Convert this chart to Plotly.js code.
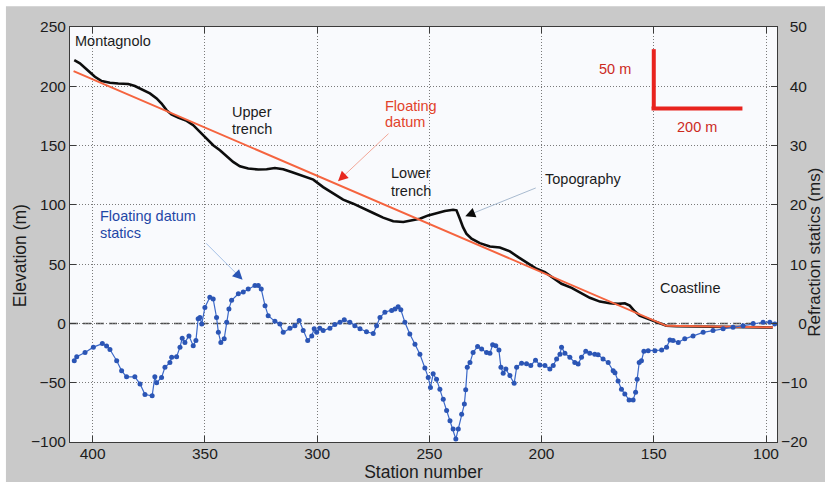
<!DOCTYPE html>
<html>
<head>
<meta charset="utf-8">
<script src="https://cdn.plot.ly/plotly-3.0.1.min.js"></script>
<style>
  html, body { margin: 0; padding: 0; background: #ffffff; }
  #chart { width: 825px; height: 482px; }
</style>
</head>
<body>
<div id="chart"></div>
<script>
// Topography profile (station number, elevation in m)
const topoStation = [408.2, 405.7, 402, 399, 396, 392.3, 388.6, 384.1, 381.2, 378.2, 374.5, 371.5, 369.3, 367.1, 364.9, 361.9, 358.1, 355.2, 352.2, 349.2, 346.3, 343.3, 340.3, 337.4, 334.4, 330.7, 326.2, 322.5, 318.8, 315.1, 311.4, 308.4, 305.8, 301.7, 297.3, 292.8, 288.4, 283.9, 279.5, 275, 270.6, 266.1, 261.6, 257.9, 254.2, 250.5, 246.8, 243.1, 239.4, 237.9, 236.4, 235, 233.5, 231.2, 227.5, 223, 218.6, 214.1, 210.4, 206.5, 202.2, 198.5, 194.8, 191.1, 186.6, 182.9, 178.5, 174, 169.6, 165.9, 162.9, 160.7, 158.5, 156.3, 152.6, 148.8, 144.4, 139.9, 134, 115, 97];
const topoElev = [222, 219.4, 213.1, 208, 204.4, 203, 202.4, 201.9, 200.2, 197.4, 194, 189.8, 185.5, 179.9, 176.2, 173.7, 170.8, 167.2, 161.5, 155.1, 150.3, 146.1, 141, 136.2, 132.5, 130.6, 129.8, 130, 131.1, 130, 127.7, 125.8, 124.2, 121.3, 115, 109.5, 104.4, 101, 96.8, 93.1, 89.2, 86.1, 85.5, 86.9, 88.3, 91.1, 93.1, 94.8, 95.9, 95.4, 88.3, 81.2, 75.7, 71.4, 67.7, 64.9, 64, 60.8, 55.9, 51.2, 46.1, 43.2, 38.5, 33.4, 30, 26.3, 21.6, 18.4, 17, 16.5, 17, 15, 10.2, 6.6, 3.8, 0.9, -1.9, -2.4, -2.5, -3.0, -3.4];

// Floating datum (station number, elevation in m)
const datumStation = [408.5, 144.4, 96.9];
const datumElev = [212.8, -2.0, -3.3];

// Floating datum statics (station number, refraction statics in ms)
const staticsStation = [408.2, 407.1, 403.4, 399.7, 395.7, 393.8, 392.3, 389.3, 387.1, 384.9, 381.2, 378.9, 376.7, 373.5, 372.3, 371.5, 369.3, 367.8, 365.6, 364.8, 362.6, 361.1, 360.1, 358.9, 357.1, 355.2, 354.0, 353.0, 352.2, 351.4, 350.0, 347.8, 346.3, 344.8, 344.0, 342.9, 341.4, 340.3, 339.3, 338.1, 335.1, 332.9, 330.7, 327.7, 326.2, 324.9, 323.2, 321.8, 318.8, 316.6, 315.1, 312.1, 309.9, 308.0, 306.2, 304.2, 302.4, 301.3, 300.2, 298.8, 297.3, 294.3, 292.1, 289.8, 287.9, 285.4, 283.2, 280.9, 278.0, 275.0, 273.5, 272.0, 269.8, 266.8, 265.3, 263.9, 262.7, 260.9, 258.7, 256.4, 254.2, 252.0, 250.5, 249.5, 248.3, 246.8, 245.3, 243.8, 242.3, 240.8, 239.4, 238.2, 237.1, 235.6, 234.4, 233.8, 233.1, 231.9, 230.5, 228.5, 226.7, 224.5, 223.0, 221.8, 220.4, 219.0, 218.1, 217.1, 215.9, 214.1, 212.2, 211.1, 208.9, 206.7, 204.8, 202.7, 200.8, 198.5, 196.3, 194.8, 193.3, 191.8, 191.1, 189.6, 187.4, 185.2, 183.7, 182.2, 180.3, 178.5, 176.3, 174.8, 172.6, 170.3, 168.1, 167.3, 165.9, 164.4, 162.9, 161.0, 159.2, 158.1, 157.4, 156.5, 155.5, 154.4, 152.5, 149.5, 146.5, 144.3, 142.8, 141.4, 139.1, 136.2, 132.5, 128.0, 123.6, 119.1, 114.7, 110.2, 105.7, 101.3, 98.3, 96.1];
const staticsMs = [-6.3, -5.6, -4.9, -4.0, -3.4, -3.8, -4.4, -6.3, -8.0, -9.0, -9.0, -10.2, -12.0, -12.2, -9.0, -10.0, -9.1, -7.4, -6.6, -5.7, -5.6, -4.0, -2.5, -3.2, -2.1, -3.75, -2.9, 0.8, 1.0, -0.1, 2.7, 4.4, 4.1, 1.0, -1.5, -3.2, -2.6, 0.2, 2.45, 3.9, 5.0, 5.3, 5.8, 6.4, 6.4, 5.8, 3.0, 1.3, 0.35, -0.1, -1.5, -0.8, -0.4, 0.5, -1.2, -2.9, -2.1, -0.9, -1.5, -0.8, -1.2, -0.8, -0.2, 0.2, 0.6, 0.2, -0.4, -0.9, -1.4, -1.7, -0.4, 1.0, 1.9, 2.2, 2.45, 2.8, 2.3, 0.2, -1.8, -3.5, -5.2, -7.5, -9.1, -10.8, -8.5, -9.4, -11.1, -12.8, -14.7, -16.4, -17.8, -19.5, -17.8, -15.3, -13.6, -11.2, -7.4, -6.6, -4.9, -3.9, -4.3, -4.9, -5.05, -3.6, -3.75, -4.5, -7.4, -8.4, -7.7, -8.8, -10.1, -7.4, -6.7, -6.8, -7.1, -6.2, -7.0, -7.1, -7.7, -7.1, -6.0, -5.2, -4.0, -5.05, -5.7, -6.6, -6.85, -5.7, -4.7, -5.05, -5.2, -5.3, -6.0, -6.6, -8.0, -8.3, -9.7, -11.1, -11.9, -12.9, -12.9, -11.6, -9.4, -6.6, -6.3, -4.7, -4.6, -4.6, -4.5, -4.0, -2.8, -2.9, -3.2, -2.6, -2.1, -1.5, -1.2, -0.9, -0.65, -0.4, 0.0, 0.2, 0.2, -0.1];

// Axis ticks
const stationTicks = [400, 350, 300, 250, 200, 150, 100];
const elevTicks = [-100, -50, 0, 50, 100, 150, 200, 250];
const msTicks = [-20, -10, 0, 10, 20, 30, 40, 50];
// right-hand labels padded with figure spaces so they line up on the right
const msTickText = ['\u221220', '\u221210', '\u2007\u20070', '\u200710', '\u200720', '\u200730', '\u200740', '\u200750'];

const FONT = 'Liberation Sans, Arial, Helvetica, sans-serif';
const TXT = '#1c1c1c';
const AXIS = '#3a3a3a';
const GRID = '#7a7a7a';

const traces = [
  {
    x: topoStation, y: topoElev, type: 'scatter', mode: 'lines',
    line: { color: '#0d0d0d', width: 2.6 }, hoverinfo: 'skip', showlegend: false
  },
  {
    x: datumStation, y: datumElev, type: 'scatter', mode: 'lines',
    line: { color: '#f5643f', width: 2 }, hoverinfo: 'skip', showlegend: false
  },
  {
    x: staticsStation, y: staticsMs, type: 'scatter', mode: 'lines+markers',
    yaxis: 'y2',
    line: { color: '#3b68c8', width: 1.2 },
    marker: { color: '#2b55b5', size: 5, symbol: 'circle', line: { width: 0 } },
    hoverinfo: 'skip', showlegend: false
  }
];

function note(text, x, y, color, extra) {
  return Object.assign({
    text: text, x: x, y: y, xref: 'x', yref: 'y',
    xanchor: 'left', yanchor: 'middle', showarrow: false,
    font: { family: FONT, size: 14.5, color: color }
  }, extra || {});
}

// arrow: thin pale shaft plus a solid head at the tip
function arrow(x, y, ax, ay, shaftColor, headColor) {
  const len = Math.sqrt(ax * ax + ay * ay);
  return [
    { x: x, y: y, xref: 'x', yref: 'y', text: '', showarrow: true,
      ax: ax, ay: ay, arrowhead: 0, arrowwidth: 1, arrowcolor: shaftColor, standoff: 6 },
    { x: x, y: y, xref: 'x', yref: 'y', text: '', showarrow: true,
      ax: ax / len * 11, ay: ay / len * 11, arrowhead: 2, arrowsize: 2,
      arrowwidth: 1, arrowcolor: headColor }
  ];
}

const annotations = [
  note('Montagnolo', 408.8, 238.2, TXT),
  note('Upper', 338.8, 178.2, TXT),
  note('trench', 338.8, 164.4, TXT),
  note('Floating', 270.6, 183.3, '#e2432b'),
  note('datum', 270.6, 169.5, '#e2432b'),
  note('Lower', 267.9, 126.6, TXT),
  note('trench', 267.9, 111.6, TXT),
  note('Topography', 199.3, 121.6, TXT),
  note('Coastline', 148.1, 29.7, TXT),
  note('Floating datum', 397.8, 90.5, '#1f47a6'),
  note('statics', 397.8, 76.2, '#1f47a6'),
  note('50 m', 175.2, 214.5, '#cc2a1e'),
  note('200 m', 140.4, 165.8, '#cc2a1e'),
  // axis titles
  { text: 'Elevation (m)', xref: 'paper', yref: 'paper', x: -0.0708, y: 0.45,
    textangle: -90, showarrow: false, xanchor: 'center', yanchor: 'middle',
    font: { family: FONT, size: 17.5, color: TXT } },
  { text: 'Refraction statics (ms)', xref: 'paper', yref: 'paper', x: 1.0535, y: 0.458,
    textangle: -90, showarrow: false, xanchor: 'center', yanchor: 'middle',
    font: { family: FONT, size: 17, color: TXT } }
].concat(
  arrow(290.7, 119.9, 52, -49, '#f3a899', '#e8281e'),
  arrow(234.0, 90.3, 72, -29, '#a9bbd0', '#0a0a0a'),
  arrow(333.2, 36.8, -38, -38, '#a5c0e6', '#2a55b5')
);

const shapes = [
  // pale strips along the top and left edge of the figure
  { type: 'rect', xref: 'paper', yref: 'paper', x0: -0.1, x1: 1.07, y0: 1.0499, y1: 1.07,
    fillcolor: '#ffffff', line: { width: 0 }, layer: 'below' },
  { type: 'rect', xref: 'paper', yref: 'paper', x0: -0.1, x1: -0.0906, y0: -0.1, y1: 1.07,
    fillcolor: '#ffffff', line: { width: 0 }, layer: 'below' },
  // zero reference
  { type: 'line', xref: 'paper', yref: 'y', x0: 0, x1: 1, y0: 0, y1: 0,
    line: { color: '#4d4d4d', width: 1.4, dash: '8px,5px' }, layer: 'below' },
  // scale bar: 50 m vertical, 200 m horizontal
  { type: 'line', xref: 'x', yref: 'y', x0: 150, x1: 150, y0: 181.3, y1: 231.3,
    line: { color: '#e8231e', width: 4 } },
  { type: 'line', xref: 'x', yref: 'y', x0: 151, x1: 110.5, y0: 181.3, y1: 181.3,
    line: { color: '#e8231e', width: 4 } }
];

const layout = {
  width: 825, height: 482,
  margin: { l: 70, r: 48.3, t: 26.7, b: 40.3 },
  paper_bgcolor: '#c9c9c9',
  plot_bgcolor: '#f9fafd',
  font: { family: FONT, size: 15.5, color: TXT },
  showlegend: false,
  xaxis: {
    range: [410.1, 95.1], autorange: false,
    tickvals: stationTicks, ticks: 'inside', ticklen: 6, tickcolor: AXIS,
    showline: true, linecolor: AXIS, linewidth: 1, mirror: 'ticks',
    showgrid: true, gridcolor: GRID, griddash: '1px,2px', gridwidth: 1,
    zeroline: false, ticklabelstandoff: -3,
    tickfont: { family: FONT, size: 15.5, color: TXT },
    title: { text: 'Station number', font: { family: FONT, size: 17.5, color: TXT }, standoff: 10 }
  },
  yaxis: {
    range: [-100, 250], autorange: false,
    tickvals: elevTicks, ticks: 'inside', ticklen: 6, tickcolor: AXIS,
    showline: true, linecolor: AXIS, linewidth: 1,
    showgrid: true, gridcolor: GRID, griddash: '1px,2px', gridwidth: 1,
    zeroline: false,
    tickfont: { family: FONT, size: 15.5, color: TXT }
  },
  yaxis2: {
    range: [-20, 50], autorange: false, overlaying: 'y', side: 'right',
    tickvals: msTicks, ticktext: msTickText, ticks: 'inside', ticklen: 6, tickcolor: AXIS,
    showline: true, linecolor: AXIS, linewidth: 1,
    showgrid: false, zeroline: false,
    tickfont: { family: FONT, size: 15.5, color: TXT }
  },
  annotations: annotations,
  shapes: shapes
};

Plotly.newPlot('chart', traces, layout, { staticPlot: true, displayModeBar: false });
</script>
</body>
</html>
